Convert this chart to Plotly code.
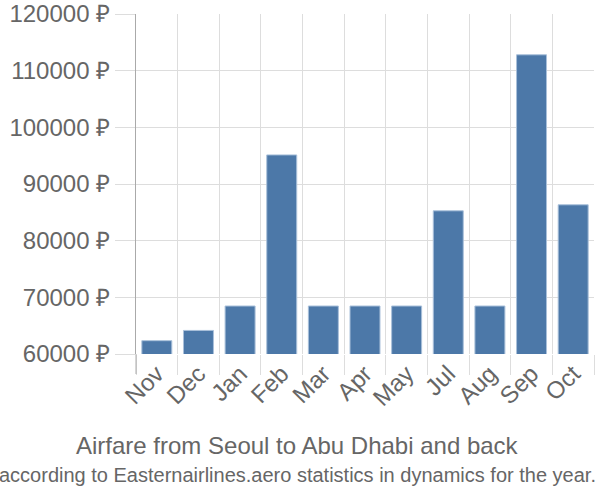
import plotly.graph_objects as go

months = ["Nov", "Dec", "Jan", "Feb", "Mar", "Apr", "May", "Jul", "Aug", "Sep", "Oct"]
prices = [62350, 64160, 68470, 95130, 68470, 68470, 68470, 85270, 68470, 112800, 86330]
y_ticks = [60000, 70000, 80000, 90000, 100000, 110000, 120000]
y_labels = [f"{v} ₽" for v in y_ticks]

fig = go.Figure(go.Bar(
    x=months, y=prices,
    marker=dict(color="#4c78a8", line=dict(color="#a9c0da", width=1)),
))

fig.update_layout(
    width=600, height=500,
    margin=dict(l=136, r=6, t=14, b=146),
    plot_bgcolor="white", paper_bgcolor="white",
    bargap=0.28,
    showlegend=False,
    font=dict(family="Liberation Sans, Arial, sans-serif", color="#666666", size=20),
    xaxis=dict(
        tickson="boundaries", ticks="outside", ticklen=20, tickcolor="#dddddd",
        showgrid=True, gridcolor="#dddddd", gridwidth=1,
        tickangle=-45, tickfont=dict(size=24, color="#666666"),
        showline=False, ticklabelstandoff=0, automargin=False,
    ),
    yaxis=dict(
        range=[60000, 120000], tickvals=y_ticks, ticktext=y_labels,
        ticks="outside", ticklen=20, tickcolor="#dddddd",
        showgrid=True, gridcolor="#dddddd", gridwidth=1,
        zeroline=False,
        showline=True, linecolor="#aaaaaa", linewidth=1,
        tickfont=dict(size=24, color="#666666"),
        ticklabelstandoff=0, automargin=False,
    ),
    shapes=[dict(type="line", xref="paper", yref="paper", x0=0, x1=0, y0=0, y1=-20/340,
                 line=dict(color="#aaaaaa", width=1))],
    annotations=[
        dict(text="Airfare from Seoul to Abu Dhabi and back", xref="paper", yref="paper",
             x=0.5, y=0, xanchor="center", yanchor="middle", yshift=-91,
             xshift=-68, showarrow=False, font=dict(size=24, color="#666666")),
        dict(text="according to Easternairlines.aero statistics in dynamics for the year.",
             xref="paper", yref="paper", x=0.5, y=0, xanchor="center", yanchor="middle",
             yshift=-121, xshift=-68, showarrow=False,
             font=dict(size=20, color="#666666")),
    ],
)

fig.write_html("out.html")
